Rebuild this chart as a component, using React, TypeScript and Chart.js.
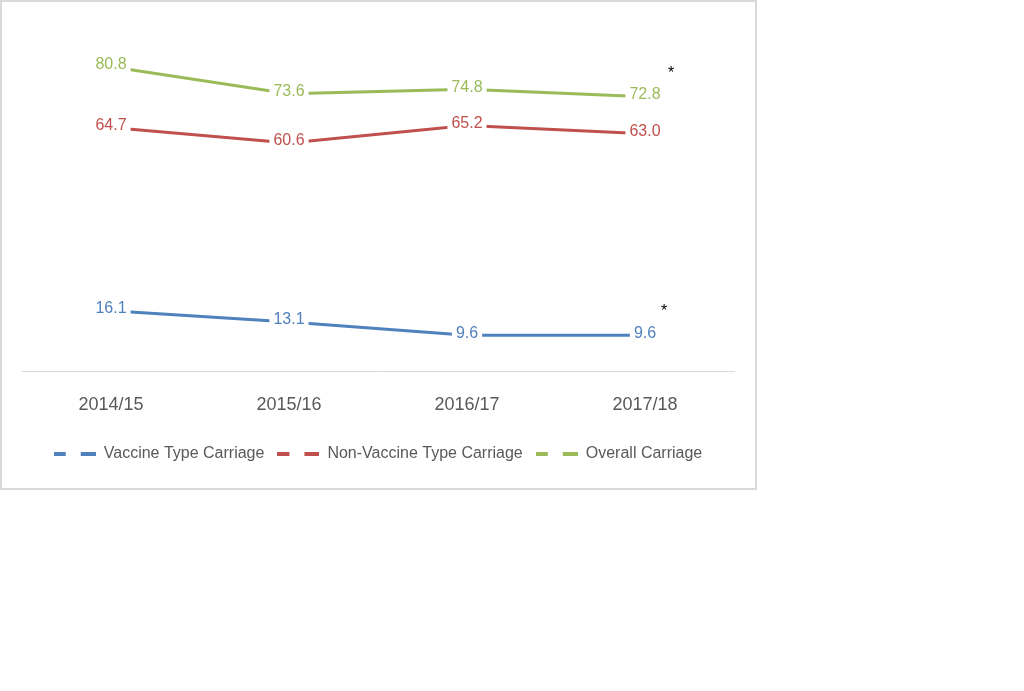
import React, { useEffect, useRef } from "react";
import { Chart, registerables } from "chart.js";

Chart.register(...registerables);

const categories = ["2014/15", "2015/16", "2016/17", "2017/18"];
const vaccineType = [16.1, 13.1, 9.6, 9.6];
const nonVaccineType = [64.7, 60.6, 65.2, 63.0];
const overall = [80.8, 73.6, 74.8, 72.8];
const seriesNames = ["Vaccine Type Carriage", "Non-Vaccine Type Carriage", "Overall Carriage"];
const seriesColors = ["#4f81bd", "#c0504d", "#9bbb59"];
// series whose last point carries an asterisk note
const asteriskSeries = [0, 2];

const FONT = "'Liberation Sans', Arial, sans-serif";

function makeDashIcon(color: string): HTMLCanvasElement {
  const c = document.createElement("canvas");
  c.width = 42;
  c.height = 4;
  const g = c.getContext("2d")!;
  g.fillStyle = color;
  g.fillRect(0, 0, 12, 4);
  g.fillRect(27, 0, 15, 4);
  return c;
}

const asteriskOffset: Record<number, [number, number]> = { 0: [19, -24], 2: [26, -23] };

const dataLabelPlugin = {
  id: "dataLabels",
  afterDatasetsDraw(chart: any) {
    const ctx = chart.ctx;
    ctx.save();
    ctx.font = `16px ${FONT}`;
    ctx.textAlign = "center";
    ctx.textBaseline = "middle";
    chart.data.datasets.forEach((ds: any, di: number) => {
      const meta = chart.getDatasetMeta(di);
      meta.data.forEach((pt: any, i: number) => {
        const txt = Number(ds.data[i]).toFixed(1);
        const w = ctx.measureText(txt).width;
        ctx.fillStyle = "#ffffff";
        ctx.fillRect(pt.x - w / 2 - 4, pt.y - 11, w + 8, 20);
        ctx.fillStyle = ds.borderColor;
        ctx.fillText(txt, pt.x, pt.y - 2);
      });
    });
    ctx.fillStyle = "#000000";
    ctx.font = `16px ${FONT}`;
    asteriskSeries.forEach((di) => {
      const meta = chart.getDatasetMeta(di);
      const pt = meta.data[meta.data.length - 1];
      const [dx, dy] = asteriskOffset[di] || [20, -24];
      ctx.fillText("*", pt.x + dx, pt.y + dy);
    });
    ctx.restore();
  },
};

export default function App() {
  const ref = useRef<HTMLCanvasElement>(null);
  useEffect(() => {
    const values = [vaccineType, nonVaccineType, overall];
    const chart = new Chart(ref.current!, {
      type: "line",
      data: {
        labels: categories,
        datasets: values.map((v, i) => ({
          label: seriesNames[i],
          data: v,
          borderColor: seriesColors[i],
          backgroundColor: seriesColors[i],
          borderWidth: 3,
          pointRadius: 0,
          pointStyle: makeDashIcon(seriesColors[i]) as any,
          tension: 0,
        })),
      },
      options: {
        animation: false,
        responsive: false,
        layout: { padding: { top: 30, left: 20, right: 21, bottom: 16 } },
        plugins: {
          tooltip: { enabled: false },
          legend: {
            position: "bottom",
            labels: {
              usePointStyle: true,
              pointStyleWidth: 42,
              padding: 13,
              color: "#595959",
              font: { family: FONT, size: 16 },
            },
          },
        },
        scales: {
          x: {
            offset: true,
            grid: { display: false },
            border: { display: true, color: "#d9d9d9", width: 1 },
            ticks: { color: "#595959", font: { family: FONT, size: 18 }, padding: 15 },
            afterFit: (scale: any) => {
              scale.height = scale.height + 2;
            },
          },
          y: { display: false, min: 0, max: 90 },
        },
      },
      plugins: [dataLabelPlugin],
    });
    return () => chart.destroy();
  }, []);
  return (
    <div
      style={{
        position: "absolute",
        left: 0,
        top: 0,
        width: 757,
        height: 490,
        boxSizing: "border-box",
        border: "2px solid #d9d9d9",
        background: "#fff",
      }}
    >
      <canvas ref={ref} width={753} height={486} style={{ display: "block" }} />
    </div>
  );
}
